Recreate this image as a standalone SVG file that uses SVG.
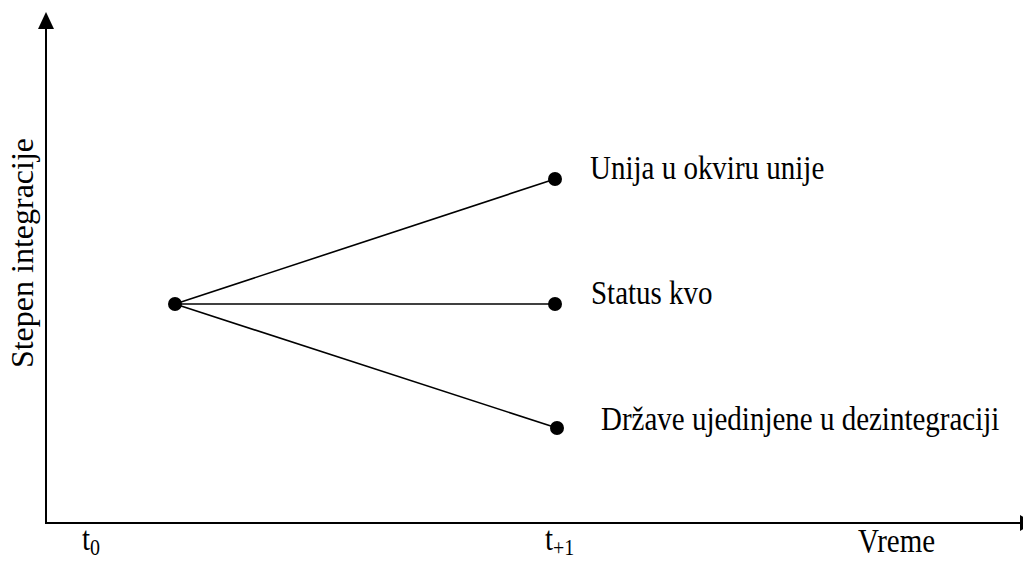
<svg xmlns="http://www.w3.org/2000/svg" width="1023" height="562" viewBox="0 0 1023 562">
  <style>
    .axis { stroke: #000; stroke-width: 2; fill: none; }
    .link { stroke: #000; stroke-width: 1.6; fill: none; }
    .dot { fill: #000; }
    text { font-family: "Liberation Serif", "Times New Roman", serif; font-size: 29px; fill: #000; }
    .sub { font-size: 20px; }
  </style>
  <rect width="1023" height="562" fill="#fff"/>

  <!-- axes with filled triangular heads -->
  <g id="axes">
    <path d="M46,523 L46,28" class="axis"/>
    <path d="M38,29 L46,12 L54,29 Z" fill="#000"/>
    <path d="M45,523 L1020,523" class="axis"/>
    <path d="M1020,515 L1034,523 L1020,531 Z" fill="#000"/>
    <text transform="translate(33,253) rotate(-90)" text-anchor="middle" style="font-size:32px">Stepen integracije</text>
    <text transform="translate(82,550) scale(1,1.18)">t<tspan class="sub" dy="4">0</tspan></text>
    <text transform="translate(545,550) scale(1,1.18)">t<tspan class="sub" dy="4">+1</tspan></text>
    <text transform="translate(858,552) scale(1,1.18)">Vreme</text>
  </g>

  <!-- connectors -->
  <g id="connectors">
    <line x1="175" y1="304" x2="555" y2="179" class="link"/>
    <line x1="175" y1="304" x2="555" y2="304" class="link"/>
    <line x1="175" y1="304" x2="557" y2="428" class="link"/>
  </g>

  <g id="start">
    <circle cx="175" cy="304" r="7" class="dot"/>
  </g>
  <g id="unija">
    <circle cx="555" cy="179" r="7" class="dot"/>
    <text transform="translate(590,179) scale(1,1.18)">Unija u okviru unije</text>
  </g>
  <g id="status">
    <circle cx="555" cy="304" r="7" class="dot"/>
    <text transform="translate(591,304) scale(1,1.18)">Status kvo</text>
  </g>
  <g id="drzave">
    <circle cx="557" cy="428" r="7" class="dot"/>
    <text transform="translate(601,430) scale(1,1.18)">Države ujedinjene u dezintegraciji</text>
  </g>
</svg>
